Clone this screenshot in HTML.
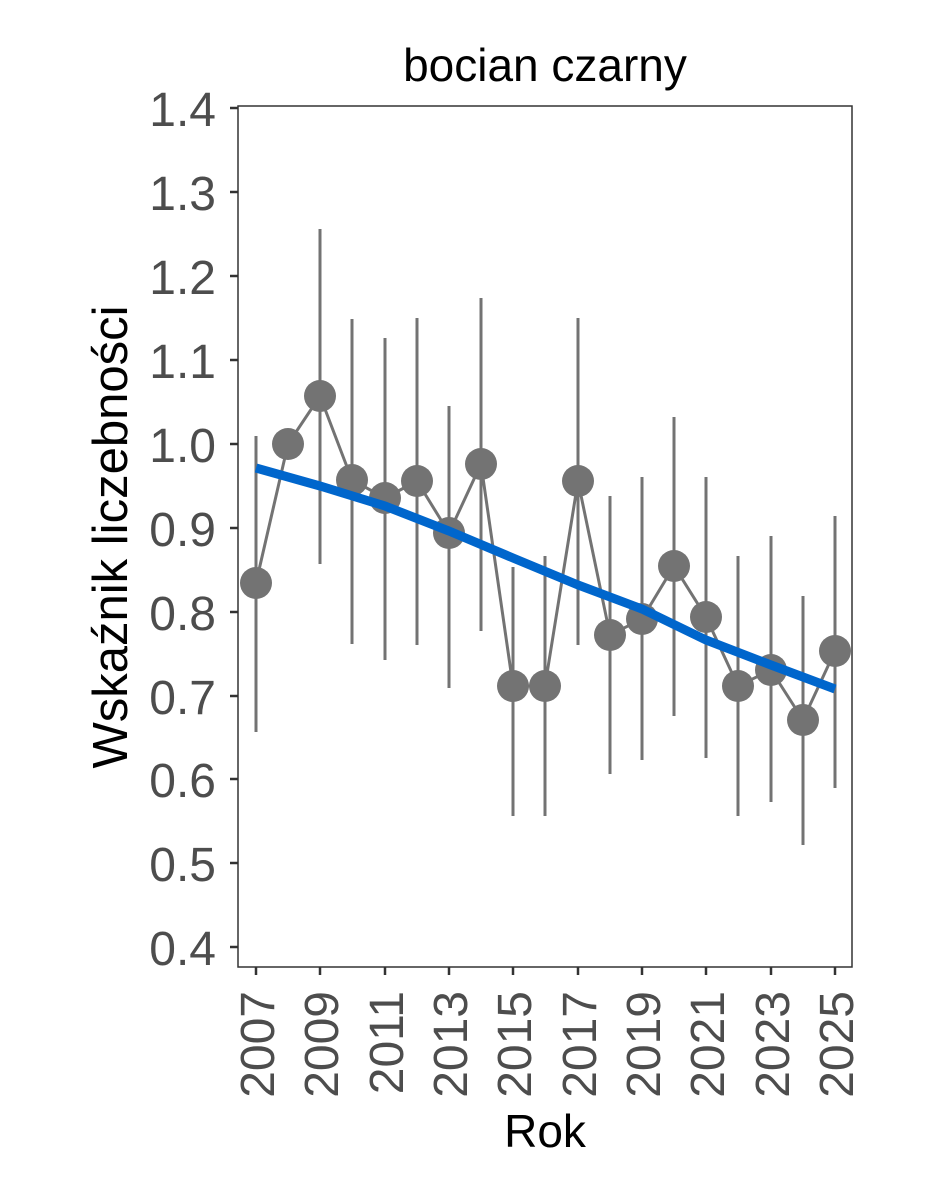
<!DOCTYPE html><html><head><style>body{margin:0;background:#fff}</style></head><body>
<svg width="944" height="1181" xmlns="http://www.w3.org/2000/svg" font-family="Liberation Sans, sans-serif">
<rect width="944" height="1181" fill="#fff"/>
<rect x="238" y="106" width="614" height="861" fill="none" stroke="#333" stroke-width="1.5"/>
<g stroke="#333" stroke-width="2.5">
<line x1="230" x2="238" y1="108" y2="108"/><line x1="230" x2="238" y1="192" y2="192"/><line x1="230" x2="238" y1="276" y2="276"/><line x1="230" x2="238" y1="360" y2="360"/><line x1="230" x2="238" y1="444" y2="444"/><line x1="230" x2="238" y1="528" y2="528"/><line x1="230" x2="238" y1="612" y2="612"/><line x1="230" x2="238" y1="696" y2="696"/><line x1="230" x2="238" y1="779" y2="779"/><line x1="230" x2="238" y1="863" y2="863"/><line x1="230" x2="238" y1="947" y2="947"/>
<line x1="256" x2="256" y1="967" y2="975"/><line x1="320" x2="320" y1="967" y2="975"/><line x1="385" x2="385" y1="967" y2="975"/><line x1="449" x2="449" y1="967" y2="975"/><line x1="513" x2="513" y1="967" y2="975"/><line x1="578" x2="578" y1="967" y2="975"/><line x1="642" x2="642" y1="967" y2="975"/><line x1="706" x2="706" y1="967" y2="975"/><line x1="771" x2="771" y1="967" y2="975"/><line x1="835" x2="835" y1="967" y2="975"/>
</g>
<g fill="#4d4d4d" font-size="48" text-anchor="end">
<text x="216" y="126">1.4</text><text x="216" y="210">1.3</text><text x="216" y="294">1.2</text><text x="216" y="378">1.1</text><text x="216" y="462">1.0</text><text x="216" y="546">0.9</text><text x="216" y="630">0.8</text><text x="216" y="714">0.7</text><text x="216" y="797">0.6</text><text x="216" y="881">0.5</text><text x="216" y="965">0.4</text>
</g>
<g fill="#4d4d4d" font-size="48" text-anchor="end">
<text transform="translate(274,991) rotate(-90)">2007</text><text transform="translate(338,991) rotate(-90)">2009</text><text transform="translate(403,991) rotate(-90)">2011</text><text transform="translate(467,991) rotate(-90)">2013</text><text transform="translate(531,991) rotate(-90)">2015</text><text transform="translate(596,991) rotate(-90)">2017</text><text transform="translate(660,991) rotate(-90)">2019</text><text transform="translate(724,991) rotate(-90)">2021</text><text transform="translate(789,991) rotate(-90)">2023</text><text transform="translate(853,991) rotate(-90)">2025</text>
</g>
<text x="545" y="1147" font-size="46" text-anchor="middle" fill="#000">Rok</text>
<text transform="translate(127,537) rotate(-90)" font-size="49" text-anchor="middle" fill="#000">Wskaźnik liczebności</text>
<text x="545" y="81" font-size="46" text-anchor="middle" fill="#000">bocian czarny</text>
<g stroke="#737373" stroke-width="3">
<line x1="256" x2="256" y1="436" y2="732"/><line x1="320" x2="320" y1="229" y2="564"/><line x1="352" x2="352" y1="319" y2="644"/><line x1="385" x2="385" y1="338" y2="660"/><line x1="417" x2="417" y1="318" y2="645"/><line x1="449" x2="449" y1="406" y2="688"/><line x1="481" x2="481" y1="298" y2="631"/><line x1="513" x2="513" y1="567" y2="816"/><line x1="545" x2="545" y1="556" y2="816"/><line x1="578" x2="578" y1="318" y2="645"/><line x1="610" x2="610" y1="496" y2="774"/><line x1="642" x2="642" y1="477" y2="760"/><line x1="674" x2="674" y1="417" y2="716"/><line x1="706" x2="706" y1="477" y2="758"/><line x1="738" x2="738" y1="556" y2="816"/><line x1="771" x2="771" y1="536" y2="802"/><line x1="803" x2="803" y1="596" y2="845"/><line x1="835" x2="835" y1="516" y2="788"/>
<polyline fill="none" points="256,583 288,444 320,396 352,480 385,498 417,481 449,533 481,464 513,686 545,686 578,481 610,635 642,619 674,566 706,617 738,686 771,670 803,720 835,651"/>
</g>
<g fill="#737373">
<circle cx="256" cy="583" r="16"/><circle cx="288" cy="444" r="16"/><circle cx="320" cy="396" r="16"/><circle cx="352" cy="480" r="16"/><circle cx="385" cy="498" r="16"/><circle cx="417" cy="481" r="16"/><circle cx="449" cy="533" r="16"/><circle cx="481" cy="464" r="16"/><circle cx="513" cy="686" r="16"/><circle cx="545" cy="686" r="16"/><circle cx="578" cy="481" r="16"/><circle cx="610" cy="635" r="16"/><circle cx="642" cy="619" r="16"/><circle cx="674" cy="566" r="16"/><circle cx="706" cy="617" r="16"/><circle cx="738" cy="686" r="16"/><circle cx="771" cy="670" r="16"/><circle cx="803" cy="720" r="16"/><circle cx="835" cy="651" r="16"/>
</g>
<polyline fill="none" stroke="#0066cc" stroke-width="9" points="256,468 320,486 385,506 449,531 513,558 578,585 642,609 706,640 771,665 835,689"/>
</svg>
</body></html>
